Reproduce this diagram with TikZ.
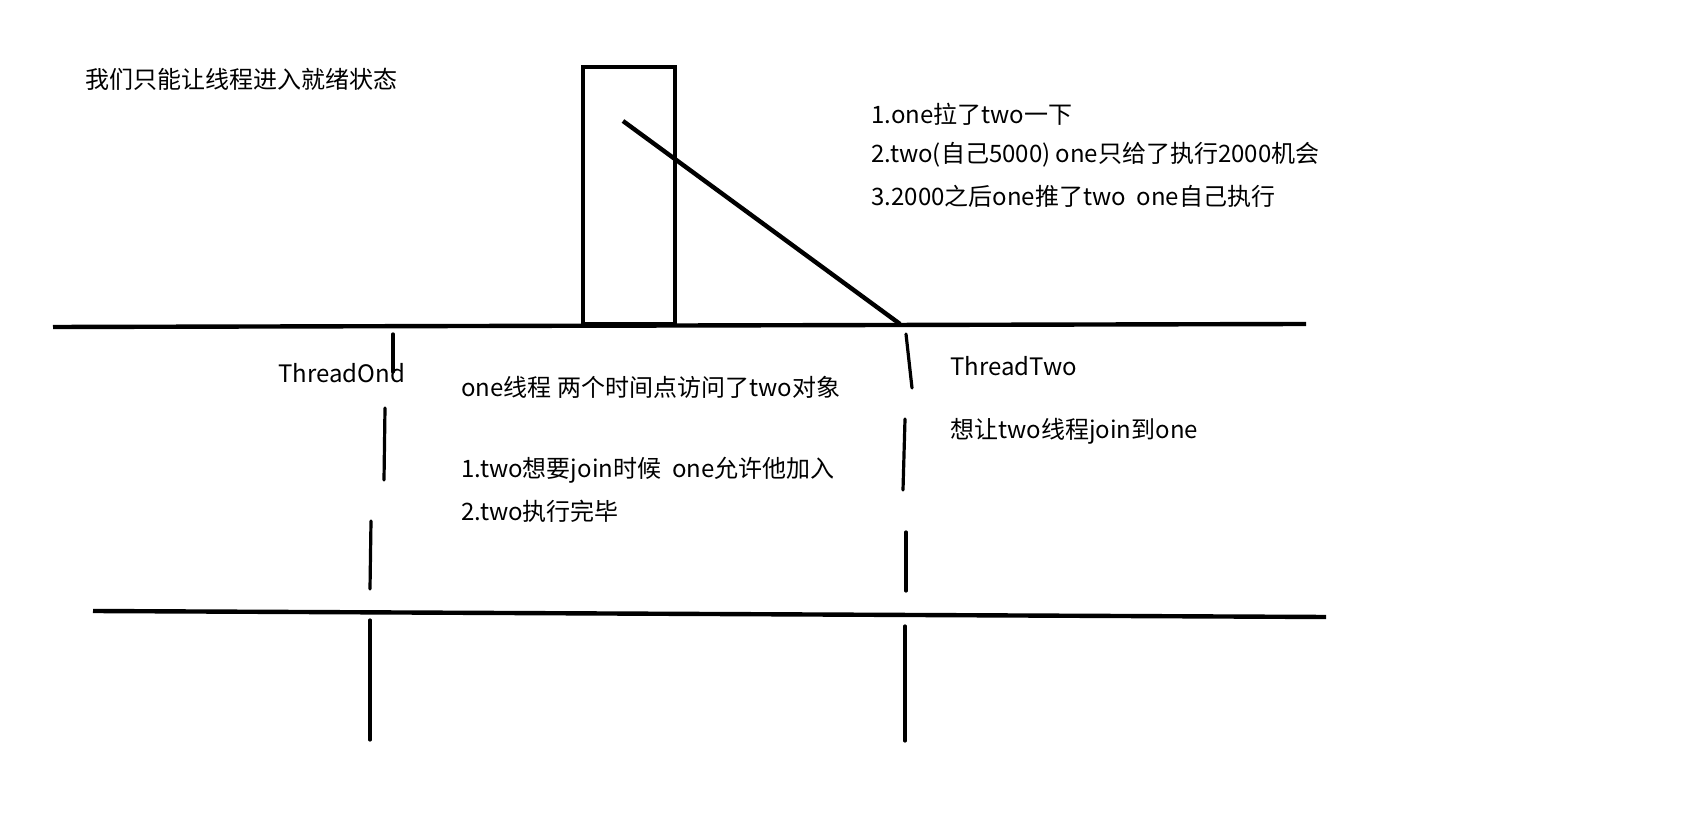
\documentclass[tikz,border=0pt]{standalone}
\usepackage{fontspec}
\newfontfamily\cjk{Noto Sans CJK SC}
\begin{document}
\begin{tikzpicture}[x=0.5pt, y=-0.5pt]

	\tikzstyle{texto}=[anchor=west, inner sep=0pt, font=\cjk\fontsize{12}{14}\selectfont]
	\tikzstyle{bold}=[line width=2.2pt]
	\tikzstyle{hilo}=[line width=1.6pt, line cap=round]

	\useasboundingbox (0,0) rectangle (1707,822);

	\coordinate (t_0) at (85, 79);
	\coordinate (t_1_1) at (871, 114);
	\coordinate (t_1_2) at (871, 155);
	\coordinate (t_1_3) at (871, 196);
	\coordinate (t_one) at (278, 373);
	\coordinate (t_2_1) at (461, 387);
	\coordinate (t_2_2) at (461, 470);
	\coordinate (t_2_3) at (461, 511);
	\coordinate (t_two) at (950, 366);
	\coordinate (t_3_1) at (950, 431);

	\coordinate (caja_1) at (583, 67); % CAJA
	\coordinate (caja_2) at (675, 324); % CAJA
	\coordinate (diag_1) at (623, 121); % DIAGONAL
	\coordinate (diag_2) at (900, 324); % DIAGONAL
	\coordinate (h_1_1) at (53, 327); % LINEA ARRIBA
	\coordinate (h_1_2) at (1306, 324); % LINEA ARRIBA
	\coordinate (h_2_1) at (93, 611); % LINEA ABAJO
	\coordinate (h_2_2) at (1326, 617); % LINEA ABAJO

	\coordinate (one_1) at (393, 334); % HILO UNO
	\coordinate (one_2) at (393, 372); % HILO UNO
	\coordinate (one_3) at (385, 408); % HILO UNO
	\coordinate (one_4) at (384, 480); % HILO UNO
	\coordinate (one_5) at (371, 521); % HILO UNO
	\coordinate (one_6) at (370, 589); % HILO UNO
	\coordinate (one_7) at (370, 620); % HILO UNO
	\coordinate (one_8) at (370, 740); % HILO UNO
	\coordinate (two_1) at (906, 334); % HILO DOS
	\coordinate (two_2) at (912, 388); % HILO DOS
	\coordinate (two_3) at (905, 419); % HILO DOS
	\coordinate (two_4) at (903, 490); % HILO DOS
	\coordinate (two_5) at (906, 532); % HILO DOS
	\coordinate (two_6) at (906, 591); % HILO DOS
	\coordinate (two_7) at (905, 626); % HILO DOS
	\coordinate (two_8) at (905, 741); % HILO DOS

	\node[texto] (t_0) at (t_0) {我们只能让线程进入就绪状态};
	\node[texto] (t_1_1) at (t_1_1) {1.one拉了two一下};
	\node[texto] (t_1_2) at (t_1_2) {2.two(自己5000) one只给了执行2000机会};
	\node[texto] (t_1_3) at (t_1_3) {3.2000之后one推了two\ \ one自己执行};
	\node[texto] (t_one) at (t_one) {ThreadOnd};
	\node[texto] (t_2_1) at (t_2_1) {one线程 两个时间点访问了two对象};
	\node[texto] (t_2_2) at (t_2_2) {1.two想要join时候\ \ one允许他加入};
	\node[texto] (t_2_3) at (t_2_3) {2.two执行完毕};
	\node[texto] (t_two) at (t_two) {ThreadTwo};
	\node[texto] (t_3_1) at (t_3_1) {想让two线程join到one};

	\draw[bold] (h_1_1) -- (h_1_2);
	\draw[bold] (h_2_1) -- (h_2_2);
	\draw[bold] (caja_1) rectangle (caja_2);
	\draw[bold] (diag_1) -- (diag_2);

	\draw[hilo] (one_1) -- (one_2);
	\draw[hilo] (one_3) -- (one_4);
	\draw[hilo] (one_5) -- (one_6);
	\draw[hilo] (one_7) -- (one_8);
	\draw[hilo] (two_1) -- (two_2);
	\draw[hilo] (two_3) -- (two_4);
	\draw[hilo] (two_5) -- (two_6);
	\draw[hilo] (two_7) -- (two_8);
\end{tikzpicture}
\end{document}
